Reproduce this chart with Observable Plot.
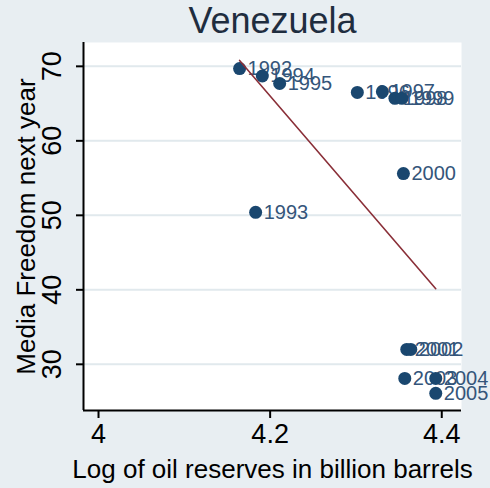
<!DOCTYPE html>
<html>
<head>
<meta charset="utf-8">
<script src="https://cdn.jsdelivr.net/npm/d3@7"></script>
<script src="https://cdn.jsdelivr.net/npm/@observablehq/plot@0.6"></script>
<style>
  html, body { margin: 0; padding: 0; background: #e8eef2; }
</style>
</head>
<body>
<div id="chart"></div>
<script>
const title = "Venezuela";
const xLabel = "Log of oil reserves in billion barrels";
const yLabel = "Media Freedom next year";

const years   = [1992, 1993, 1994, 1995, 1996, 1997, 1998, 1999, 2000, 2001, 2002, 2003, 2004, 2005];
const oilLog  = [4.1644, 4.1831, 4.1909, 4.2111, 4.3016, 4.3308, 4.3454, 4.3536, 4.3553, 4.3592, 4.3639, 4.3569, 4.3930, 4.3930];
const freedom = [69.7, 50.4, 68.7, 67.7, 66.5, 66.6, 65.7, 65.7, 55.6, 32.0, 32.0, 28.1, 28.1, 26.1];

const xTicks = [4, 4.2, 4.4];
const yTicks = [30, 40, 50, 60, 70];
const xDomain = [3.9825, 4.423];
const yDomain = [23.8, 73.2];

const data = years.map((yr, i) => ({year: String(yr), x: oilLog[i], y: freedom[i]}));

const font = "Liberation Sans, Arial, sans-serif";

const chart = Plot.plot({
  width: 490,
  height: 488,
  marginLeft: 83,
  marginRight: 29,
  marginTop: 42,
  marginBottom: 78,
  style: {background: "#e8eef2", fontFamily: font},
  x: {type: "linear", domain: xDomain, axis: null},
  y: {type: "linear", domain: yDomain, axis: null},
  marks: [
    Plot.frame({fill: "white", stroke: null}),
    Plot.gridY(yTicks, {stroke: "#e1e9ed", strokeOpacity: 1, strokeWidth: 2}),
    // axis lines
    Plot.ruleX([xDomain[0]], {stroke: "black", strokeWidth: 2}),
    Plot.ruleY([yDomain[0]], {stroke: "black", strokeWidth: 2}),
    // ticks and tick labels
    Plot.axisX(xTicks, {tickSize: 8, tickPadding: 5, fontSize: 27, stroke: "black", strokeWidth: 2, fill: "black", label: null, tickFormat: d => String(d)}),
    Plot.axisY(yTicks, {tickSize: 7, fontSize: 27, stroke: "black", strokeWidth: 2, text: null, label: null}),
    Plot.text(yTicks, {y: d => d, text: d => String(d), frameAnchor: "left", dx: -31, rotate: -90, fontSize: 27, fill: "black", textAnchor: "middle", lineAnchor: "middle"}),
    // axis titles
    Plot.text([yLabel], {frameAnchor: "left", dx: -57, rotate: -90, fontSize: 26, fill: "black", textAnchor: "middle", lineAnchor: "middle"}),
    Plot.text([xLabel], {frameAnchor: "bottom", dy: 59, fontSize: 26, fill: "black", textAnchor: "middle", lineAnchor: "middle"}),
    Plot.text([title], {frameAnchor: "top", dy: -21, fontSize: 36, fill: "#1f2d3f", textAnchor: "middle", lineAnchor: "middle"}),
    // marker labels, markers, fit line
    Plot.text(data, {x: "x", y: "y", text: "year", dx: 8, textAnchor: "start", fontSize: 20, fill: "#34557a"}),
    Plot.dot(data, {x: "x", y: "y", r: 6.5, fill: "#1a476f", stroke: null}),
    Plot.linearRegressionY(data, {x: "x", y: "y", stroke: "#8a2f38", strokeWidth: 1.6, ci: 0})
  ]
});
document.getElementById("chart").appendChild(chart);
</script>
</body>
</html>
